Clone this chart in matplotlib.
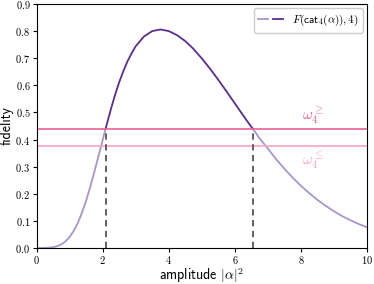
import matplotlib
matplotlib.use("Agg")
import matplotlib.pyplot as plt
from matplotlib.ticker import FuncFormatter
from matplotlib.legend_handler import HandlerTuple

plt.rcParams['mathtext.fontset'] = 'cm'

# amplitude |alpha|^2 and fidelity
amp = [0.0, 0.25, 0.5, 0.625, 0.75, 0.875, 1.0, 1.125, 1.25, 1.375, 1.5,
       1.625, 1.75, 1.875, 2.0, 2.09, 2.25, 2.375, 2.5, 2.625, 2.75, 2.875,
       3.0, 3.25, 3.5, 3.75, 4.0, 4.25, 4.5, 4.75, 5.0, 5.25, 5.5, 5.75, 6.0,
       6.25, 6.5, 6.54, 6.75, 7.0, 7.25, 7.5, 7.75, 8.0, 8.25, 8.5, 8.75, 9.0,
       9.25, 9.5, 9.75, 10.0]
fid = [0.0, 0.0002, 0.0026, 0.0063, 0.013, 0.024, 0.040, 0.063, 0.092, 0.130,
       0.174, 0.225, 0.281, 0.339, 0.398, 0.440, 0.512, 0.564, 0.611, 0.652,
       0.688, 0.718, 0.744, 0.780, 0.800, 0.806, 0.800, 0.785, 0.763, 0.734,
       0.699, 0.661, 0.620, 0.577, 0.533, 0.489, 0.446, 0.440, 0.404, 0.366,
       0.327, 0.292, 0.259, 0.229, 0.202, 0.177, 0.155, 0.135, 0.117, 0.102,
       0.088, 0.076]

w_hi = 0.44
w_lo = 0.375
x_cross = [2.09, 6.54]

dark = '#5b2d8e'
light = '#a995c9'
pink = '#ef5f97'
pink_light = '#f7a3c5'

fig = plt.figure(figsize=(3.74, 2.84), dpi=100)
ax = fig.add_axes([0.0976, 0.127, 0.884, 0.859])

inside = [i for i, x in enumerate(amp) if x_cross[0] <= x <= x_cross[1]]
i0, i1 = inside[0], inside[-1]

ax.plot(amp[:i0 + 1], fid[:i0 + 1], color=light, lw=1.3)
ax.plot(amp[i1:], fid[i1:], color=light, lw=1.3)
ax.plot(amp[i0:i1 + 1], fid[i0:i1 + 1], color=dark, lw=1.3)

ax.axhline(w_hi, color=pink, lw=1.2)
ax.axhline(w_lo, color=pink_light, lw=1.2)
for xc in x_cross:
    ax.plot([xc, xc], [0, w_hi], color='#555555', lw=1.3, ls=(0, (3.5, 2.5)))

ax.text(8.35, w_hi + 0.01, r'$\omega_4^{\geq}$', color=pink, fontsize=11,
        ha='center', va='bottom')
ax.text(8.35, w_lo - 0.01, r'$\omega_4^{\leq}$', color=pink_light, fontsize=11,
        ha='center', va='top')

ax.set_xlim(0, 10)
ax.set_ylim(0, 0.9)
ax.set_xticks([0, 2, 4, 6, 8, 10])
ax.set_yticks([0.0, 0.1, 0.2, 0.3, 0.4, 0.5, 0.6, 0.7, 0.8, 0.9])
ax.xaxis.set_major_formatter(FuncFormatter(lambda v, p: f'${v:.0f}$'))
ax.yaxis.set_major_formatter(FuncFormatter(lambda v, p: f'${v:.1f}$'))
ax.tick_params(labelsize=7.5, length=3, width=0.8, pad=1.5)

ax.set_xlabel(r'amplitude $|\alpha|^2$', fontsize=10, family='cmss10', labelpad=0)
ax.set_ylabel('fidelity', fontsize=10, family='cmss10', labelpad=1)

h1, = ax.plot([], [], color=light, lw=1.3)
h2, = ax.plot([], [], color=dark, lw=1.3)
ax.legend([(h1, h2)], [r'$F(\mathsf{cat}_4(\alpha)), 4)$'],
          handler_map={tuple: HandlerTuple(ndivide=None, pad=0.4)},
          loc='upper right', fontsize=8, handlelength=2.2, framealpha=1,
          edgecolor='#cccccc', borderaxespad=0.4)

fig.savefig('out.png', dpi=100)
